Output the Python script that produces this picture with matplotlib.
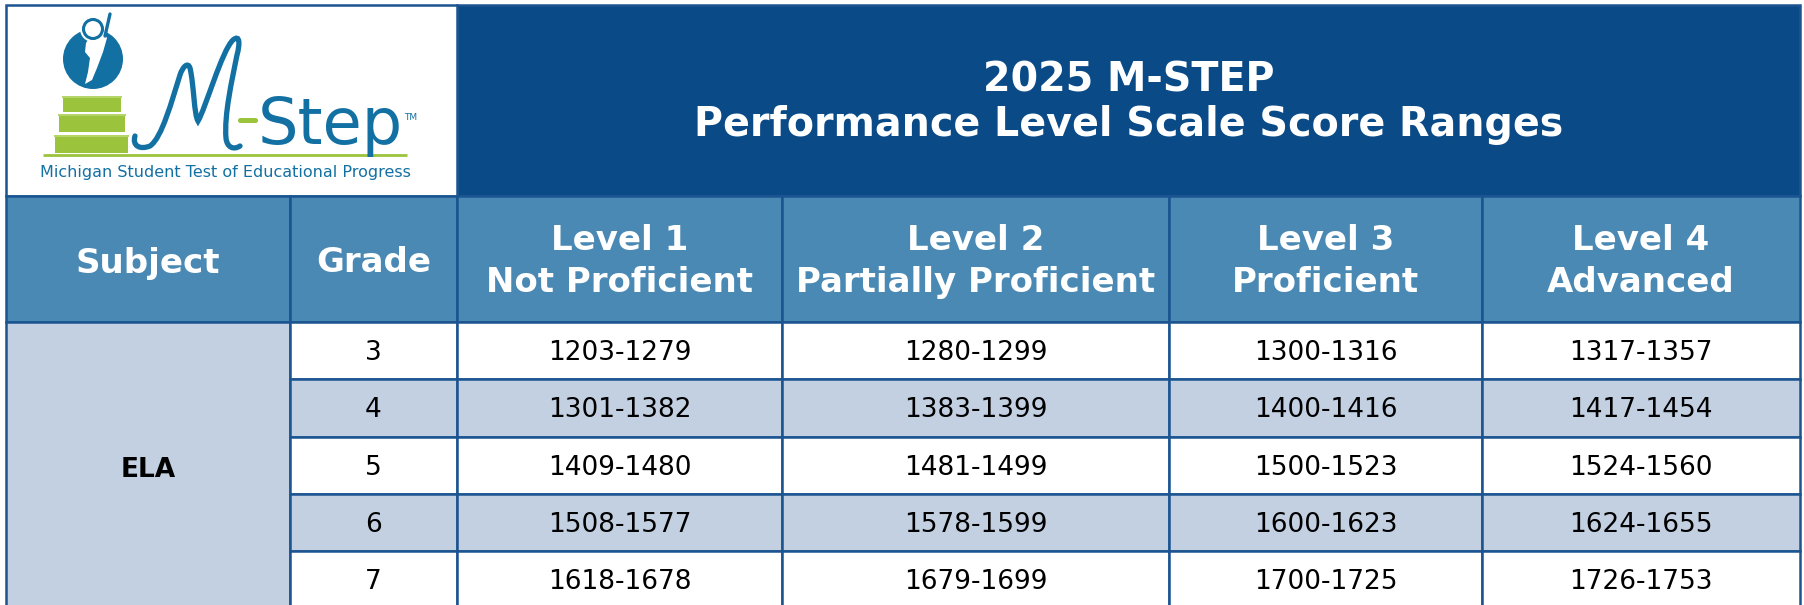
import numpy as np
import matplotlib.pyplot as plt
from matplotlib.patches import Rectangle, Circle, Polygon, PathPatch, FancyBboxPatch
from matplotlib.path import Path

# ---- table content ----
title_lines = ['2025 M-STEP', 'Performance Level Scale Score Ranges']
col_heads = ['Subject', 'Grade', 'Level 1\nNot Proficient', 'Level 2\nPartially Proficient',
             'Level 3\nProficient', 'Level 4\nAdvanced']
subject = 'ELA'
grades = ['3', '4', '5', '6', '7']
level1 = ['1203-1279', '1301-1382', '1409-1480', '1508-1577', '1618-1678']
level2 = ['1280-1299', '1383-1399', '1481-1499', '1578-1599', '1679-1699']
level3 = ['1300-1316', '1400-1416', '1500-1523', '1600-1623', '1700-1725']
level4 = ['1317-1357', '1417-1454', '1524-1560', '1624-1655', '1726-1753']

# ---- colours ----
dark = '#0a4a87'
head = '#4a89b4'
light = '#c3d0e2'
line = '#1b5491'
logo_blue = '#1370a3'
logo_green = '#9bc33c'

W, H = 1804, 605
fig = plt.figure(figsize=(W / 100, H / 100), dpi=100)
ax = fig.add_axes([0, 0, 1, 1])
ax.set_xlim(0, W)
ax.set_ylim(H, 0)
ax.axis('off')

xs = [6, 290, 457, 782, 1169, 1482, 1800]
top, title_bot, head_bot = 5, 196, 322
row_h = 57.3
lw = 1.8

# title block
ax.add_patch(Rectangle((xs[2], top), xs[-1] - xs[2], title_bot - top, fc=dark, ec=line, lw=lw))
cx = (xs[2] + xs[-1]) / 2
for txt, base in zip(title_lines, [92, 136]):
    ax.text(cx, base, txt, color='white', fontsize=28.5, fontweight='bold',
            ha='center', va='baseline')

# ---- logo cell ----
ax.add_patch(Rectangle((xs[0], top), xs[2] - xs[0], title_bot - top, fc='white', ec=line, lw=lw))
# green steps
for (x0, x1, y0, y1) in [(62, 122, 96, 112), (58, 126, 114, 132), (54, 129, 135, 153)]:
    ax.add_patch(Rectangle((x0 + 1, y0 + 2), x1 - x0 - 2, y1 - y0 - 2, fc=logo_green, ec='none'))
    ax.add_patch(Rectangle((x0, y0), x1 - x0, 2.2, fc='#b5d46a', ec='none'))
ax.plot([43, 407], [154.5, 154.5], color=logo_green, lw=2, solid_capstyle='butt')
# disk with figure
ax.add_patch(Circle((93, 59), 30, fc=logo_blue, ec='none'))
ax.add_patch(Polygon([(88, 40), (97, 38), (105, 35), (107, 38), (103, 52), (97, 68),
                      (92, 80), (85, 84), (88, 72), (90, 58), (85, 52), (86, 43)],
                     closed=True, fc='white', ec='none'))
ax.plot([105, 107.5, 110], [36, 25, 14], color=logo_blue, lw=2.4, solid_capstyle='round')
ax.add_patch(Circle((93, 29), 13, fc='white', ec='none'))
ax.add_patch(Circle((93, 29), 9.5, fc='white', ec=logo_blue, lw=2.2))
# script M drawn as a stroke
m_path = Path([(135, 136), (132, 146), (140, 150), (150, 146),
               (162, 138), (172, 100), (180, 75),
               (183, 66), (188, 62), (190, 68),
               (194, 85), (194, 115), (198, 121),
               (205, 110), (222, 50), (233, 40),
               (240, 34), (240, 44), (237, 55),
               (232, 80), (224, 115), (226, 138),
               (227, 148), (234, 150), (240, 146)],
              [Path.MOVETO] + [Path.CURVE4] * 24)
ax.add_patch(PathPatch(m_path, fc='none', ec=logo_blue, lw=3.8, capstyle='round'))
ax.add_patch(FancyBboxPatch((238, 118), 20, 5, boxstyle='round,pad=0,rounding_size=2.5',
                            fc=logo_green, ec='none'))
ax.text(258, 144, 'Step', color=logo_blue, fontsize=46, ha='left', va='baseline')
ax.text(404, 120, 'TM', color=logo_blue, fontsize=6.5, ha='left', va='baseline')
ax.text(225, 177, 'Michigan Student Test of Educational Progress', color=logo_blue,
        fontsize=11.5, ha='center', va='baseline')

# ---- header row ----
for i, h in enumerate(col_heads):
    x0, x1 = xs[i], xs[i + 1]
    ax.add_patch(Rectangle((x0, title_bot), x1 - x0, head_bot - title_bot, fc=head, ec=line, lw=lw))
    parts = h.split('\n')
    bases = [272.5] if len(parts) == 1 else [250, 292]
    for p, b in zip(parts, bases):
        ax.text((x0 + x1) / 2, b, p, color='white', fontsize=24.5, fontweight='bold',
                ha='center', va='baseline')

# ---- data rows ----
n = len(grades)
ax.add_patch(Rectangle((xs[0], head_bot), xs[1] - xs[0], n * row_h, fc=light, ec=line, lw=lw))
ax.text((xs[0] + xs[1]) / 2, head_bot + n * row_h / 2 + 12, subject, fontsize=19,
        fontweight='bold', ha='center', va='baseline', color='black')
cols = [grades, level1, level2, level3, level4]
for r in range(n):
    y0 = head_bot + r * row_h
    fc = 'white' if r % 2 == 0 else light
    for c, vals in enumerate(cols):
        x0, x1 = xs[c + 1], xs[c + 2]
        ax.add_patch(Rectangle((x0, y0), x1 - x0, row_h, fc=fc, ec=line, lw=lw))
        ax.text((x0 + x1) / 2, y0 + row_h / 2 + 9.5, vals[r], fontsize=19,
                ha='center', va='baseline', color='black')

fig.savefig('out.png', dpi=100)
